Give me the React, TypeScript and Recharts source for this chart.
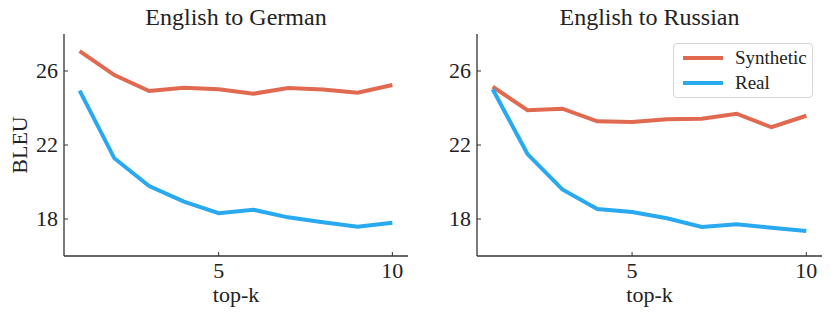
import React from "react";
import { LineChart, Line, XAxis, YAxis, Legend } from "recharts";

const topK = [1, 2, 3, 4, 5, 6, 7, 8, 9, 10];

const deSynthetic = [27.08, 25.78, 24.92, 25.1, 25.01, 24.77, 25.08, 25.0, 24.83, 25.24];
const deReal = [24.94, 21.28, 19.78, 18.94, 18.31, 18.5, 18.09, 17.82, 17.58, 17.8];

const ruSynthetic = [25.15, 23.88, 23.96, 23.28, 23.24, 23.39, 23.42, 23.69, 22.96, 23.58];
const ruReal = [25.01, 21.51, 19.6, 18.54, 18.38, 18.04, 17.57, 17.71, 17.53, 17.35];

const xTicks = [5, 10];
const yTicks = [18, 22, 26];
const seriesOrder = ["Synthetic", "Real"];

const FONT = "'Liberation Serif', 'DejaVu Serif', serif";
const RED = "#e0694f";
const BLUE = "#29a9f0";
const AXIS = "#333333";

const toRows = (syn: number[], real: number[]) =>
  topK.map((k, i) => ({ k, synthetic: syn[i], real: real[i] }));

const YTick = (props: any) => {
  const { x, y, payload } = props;
  const ax = x + 6;
  return (
    <g>
      <line x1={ax} x2={ax + 4} y1={y} y2={y} stroke={AXIS} strokeWidth={1} />
      <text x={x} y={y} dy="0.33em" textAnchor="end" fontFamily={FONT} fontSize={22} fill="#222">
        {payload.value}
      </text>
    </g>
  );
};

const XTick = (props: any) => {
  const { x, y, payload } = props;
  const ay = y - 7;
  return (
    <g>
      <line x1={x} x2={x} y1={ay} y2={ay - 4} stroke={AXIS} strokeWidth={1} />
      <text x={x} y={y} dy="0.66em" textAnchor="middle" fontFamily={FONT} fontSize={22} fill="#222">
        {payload.value}
      </text>
    </g>
  );
};

const LegendBox = (props: any) => {
  const items = [...(props.payload || [])].sort(
    (a: any, b: any) => seriesOrder.indexOf(a.value) - seriesOrder.indexOf(b.value)
  );
  return (
    <div
      style={{
        border: "1px solid #d6d6d6",
        borderRadius: 4,
        background: "#fff",
        width: 140,
        height: 55,
        boxSizing: "border-box",
        padding: "1px 0 0 9px",
        fontFamily: FONT,
        fontSize: 19,
        color: "#222",
      }}
    >
      {items.map((it: any) => (
        <div key={it.value} style={{ display: "flex", alignItems: "center", height: 25 }}>
          <span style={{ display: "inline-block", width: 40, height: 4, background: it.color, marginRight: 12 }} />
          <span>{it.value}</span>
        </div>
      ))}
    </div>
  );
};

interface PanelProps {
  title: string;
  rows: { k: number; synthetic: number; real: number }[];
  left: number;
  width: number;
  yWidth: number;
  rightMargin: number;
  showYLabel?: boolean;
  showLegend?: boolean;
}

function Panel({ title, rows, left, width, yWidth, rightMargin, showYLabel, showLegend }: PanelProps) {
  const plotW = width - yWidth - rightMargin;
  return (
    <div style={{ position: "absolute", left, top: 0, width, height: 319 }}>
      <div
        style={{
          position: "absolute",
          left: yWidth,
          width: plotW,
          top: 2,
          textAlign: "center",
          fontFamily: FONT,
          fontSize: 24,
          color: "#222",
          lineHeight: "30px",
        }}
      >
        {title}
      </div>
      <LineChart width={width} height={319} data={rows} margin={{ top: 34, right: rightMargin, left: 0, bottom: 0 }}>
        <XAxis
          dataKey="k"
          type="number"
          domain={[0.55, 10.45]}
          ticks={xTicks}
          height={63}
          tickSize={0}
          tickMargin={7}
          tick={<XTick />}
          tickLine={false}
          axisLine={{ stroke: AXIS, strokeWidth: 1.3 }}
          label={{ value: "top-k", position: "insideBottom", offset: 17, style: { fontFamily: FONT, fontSize: 22, fill: "#222" } }}
        />
        <YAxis
          type="number"
          domain={[16, 28]}
          ticks={yTicks}
          width={yWidth}
          tickSize={0}
          tickMargin={6}
          tick={<YTick />}
          tickLine={false}
          axisLine={{ stroke: AXIS, strokeWidth: 1.3 }}
          label={
            showYLabel
              ? { value: "BLEU", angle: -90, position: "insideLeft", offset: 19, style: { fontFamily: FONT, fontSize: 22, fill: "#222", textAnchor: "middle" } }
              : undefined
          }
        />
        {showLegend && (
          <Legend
            layout="vertical"
            align="center"
            verticalAlign="middle"
            wrapperStyle={{ top: 43, left: 258, width: 140 }}
            content={<LegendBox />}
          />
        )}
        <Line
          type="linear"
          dataKey="synthetic"
          name="Synthetic"
          stroke={RED}
          strokeWidth={4}
          dot={false}
          isAnimationActive={false}
        />
        <Line type="linear" dataKey="real" name="Real" stroke={BLUE} strokeWidth={4} dot={false} isAnimationActive={false} />
      </LineChart>
    </div>
  );
}

export default function App() {
  return (
    <div style={{ position: "absolute", left: 0, top: 0, width: 831, height: 319, background: "#fff" }}>
      <Panel title="English to German" rows={toRows(deSynthetic, deReal)} left={0} width={415} yWidth={64} rightMargin={7} showYLabel />
      <Panel
        title="English to Russian"
        rows={toRows(ruSynthetic, ruReal)}
        left={415}
        width={416}
        yWidth={62}
        rightMargin={9}
        showLegend
      />
    </div>
  );
}
